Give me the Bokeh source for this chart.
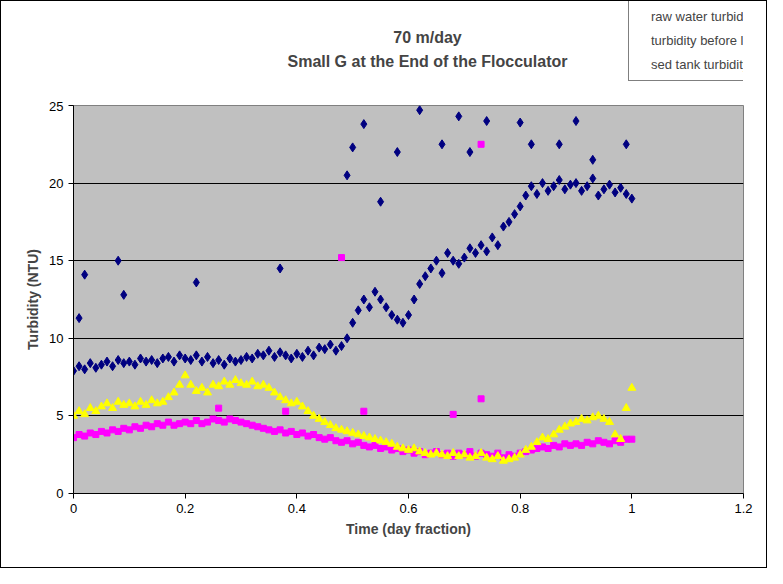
import numpy as np
from bokeh.plotting import figure
from bokeh.layouts import column
from bokeh.models import Legend, LegendItem, Label, FixedTicker, Range1d
from bokeh.embed import file_html
from bokeh.resources import INLINE

t = np.arange(101) / 100.0
raw = [7.9,8.2,8.0,8.4,8.1,8.3,8.5,8.2,8.6,8.4,
       8.5,8.3,8.7,8.5,8.6,8.4,8.7,8.8,8.5,8.9,
       8.7,8.6,8.9,8.5,8.8,8.4,8.6,8.3,8.7,8.5,
       8.6,8.8,8.7,9.0,8.9,9.2,8.8,9.1,8.9,8.7,
       9.0,8.8,9.2,8.9,9.4,9.3,9.6,9.2,9.5,10.0,
       11.0,11.8,12.5,12.0,13.0,12.5,12.0,11.5,11.2,11.0,
       11.5,12.5,13.5,14.0,14.5,15.0,14.2,15.5,15.0,14.8,
       15.2,15.8,15.5,16.0,15.6,16.5,16.0,17.2,17.5,18.0,
       18.5,19.2,19.8,19.3,20.0,19.5,19.8,20.2,19.6,19.9,
       20.0,19.5,19.8,20.3,19.2,19.6,19.9,19.4,19.7,19.3,19.0]
raw_out_x = [0.01,0.02,0.08,0.09,0.22,0.37,0.49,0.50,0.52,0.55,0.58,0.62,0.66,0.69,0.71,0.74,0.80,0.82,0.87,0.90,0.93,0.99]
raw_out_y = [11.3,14.1,15.0,12.8,13.6,14.5,20.5,22.3,23.8,18.8,22.0,24.7,22.5,24.3,22.0,24.0,23.9,22.5,22.5,24.0,21.5,22.5]

mag = [3.6,3.8,3.7,3.9,3.8,4.0,3.9,4.1,4.0,4.2,
       4.1,4.3,4.2,4.4,4.3,4.5,4.4,4.6,4.4,4.5,
       4.6,4.5,4.7,4.5,4.6,4.8,4.7,4.6,4.8,4.7,
       4.6,4.5,4.4,4.3,4.2,4.1,4.0,4.1,3.9,4.0,
       3.8,3.9,3.7,3.8,3.6,3.5,3.6,3.4,3.3,3.4,
       3.2,3.3,3.1,3.0,3.1,2.9,3.0,2.8,2.9,2.7,
       2.8,2.6,2.7,2.5,2.6,2.7,2.5,2.6,2.4,2.6,
       2.5,2.7,2.4,2.6,2.5,2.4,2.6,2.3,2.5,2.4,
       2.6,2.7,2.8,2.9,3.0,2.9,3.1,3.0,3.2,3.1,
       3.2,3.1,3.3,3.2,3.4,3.3,3.2,3.4,3.3,3.5,3.5]
mag_out_x = [0.48,0.73,0.73,0.68,0.52,0.38,0.26]
mag_out_y = [15.2,22.5,6.1,5.1,5.3,5.3,5.5]

sed = [5.0,5.3,5.1,5.5,5.3,5.6,5.8,5.5,5.9,5.7,
       5.8,5.6,5.9,5.7,6.0,5.8,5.9,6.2,6.5,7.0,
       7.6,7.0,6.6,6.8,6.5,7.0,6.9,7.2,7.0,7.3,
       7.1,7.0,7.2,6.9,7.0,6.8,6.5,6.2,6.0,5.8,
       5.9,5.6,5.3,5.0,4.8,4.6,4.4,4.2,4.1,4.0,
       3.9,3.8,3.7,3.6,3.5,3.4,3.3,3.2,3.0,2.9,
       2.8,2.9,2.7,2.6,2.5,2.6,2.5,2.4,2.6,2.4,
       2.5,2.3,2.4,2.6,2.3,2.2,2.4,2.1,2.2,2.3,
       2.5,2.8,3.0,3.3,3.6,3.5,3.8,4.1,4.3,4.5,
       4.6,4.8,4.7,4.9,5.0,4.8,4.6,3.8,3.5,5.5,6.8]

x_ticks = [0, 0.2, 0.4, 0.6, 0.8, 1.0, 1.2]
x_labels = ["0", "0.2", "0.4", "0.6", "0.8", "1", "1.2"]
y_ticks = [0, 5, 10, 15, 20, 25]
series_names = ["raw water turbidity", "turbidity before last baffle", "sed tank turbidity"]
title_lines = ["70 m/day", "Small G at the End of the Flocculator"]

# header figure: title + legend
h = figure(width=765, height=100, output_backend="svg", toolbar_location=None,
           x_range=Range1d(0, 1), y_range=Range1d(0, 1), x_axis_type=None, y_axis_type=None,
           min_border=0, outline_line_color=None, background_fill_color="white")
h.grid.visible = False
hr1 = h.scatter([], [], marker="diamond", size=8, color="#000080")
hr2 = h.scatter([], [], marker="square", size=6, color="#FF00FF")
hr3 = h.scatter([], [], marker="triangle", size=8, color="#FFFF00")
leg = Legend(items=[LegendItem(label=n, renderers=[r]) for n, r in zip(series_names, [hr1, hr2, hr3])],
             location=(555, 20), border_line_color="black", background_fill_color="white",
             background_fill_alpha=1, label_text_font="Liberation Sans",
             label_text_font_size="13px", glyph_width=10, label_standoff=6,
             spacing=4, padding=6, margin=0, label_height=16)
h.add_layout(leg, "center")
for txt, yy in zip(title_lines, (64, 40)):
    h.add_layout(Label(x=354, y=yy, x_units="screen", y_units="screen", text=txt,
                       text_align="center", text_baseline="middle",
                       text_font="Liberation Sans", text_font_size="16px",
                       text_font_style="bold"))

p = figure(width=765, height=466, output_backend="svg", toolbar_location=None,
           x_range=Range1d(0, 1.2), y_range=Range1d(0, 25),
           min_border_left=72, min_border_right=23, min_border_top=4, min_border_bottom=74,
           background_fill_color="#C0C0C0", border_fill_color="white")
p.outline_line_color = "#808080"
p.xgrid.visible = False
p.ygrid.grid_line_color = "black"
p.ygrid.ticker = FixedTicker(ticks=y_ticks)
p.xaxis.ticker = FixedTicker(ticks=x_ticks)
p.yaxis.ticker = FixedTicker(ticks=y_ticks)
p.xaxis.major_label_overrides = {v: s for v, s in zip(x_ticks, x_labels)}
for ax in (p.xaxis, p.yaxis):
    ax.major_label_text_font = "Liberation Sans"
    ax.major_label_text_font_size = "13px"
    ax.major_label_text_color = "black"
    ax.axis_label_text_font = "Liberation Sans"
    ax.axis_label_text_font_size = "14px"
    ax.axis_label_text_font_style = "bold"
    ax.axis_line_color = "black"
    ax.minor_tick_line_color = None
    ax.major_tick_out = 5
    ax.major_tick_in = 0
p.xaxis.axis_label = "Time (day fraction)"
p.yaxis.axis_label = "Turbidity (NTU)"

p.scatter(list(t) + raw_out_x, raw + raw_out_y, marker="diamond", size=9, color="#000080")
p.scatter(list(t) + mag_out_x, mag + mag_out_y, marker="square", size=6, color="#FF00FF")
p.scatter(t, sed, marker="triangle", size=8, color="#FFFF00")

layout = column(h, p, spacing=0, styles={"border": "1px solid black"})
open("out.html", "w").write(file_html(layout, INLINE))
